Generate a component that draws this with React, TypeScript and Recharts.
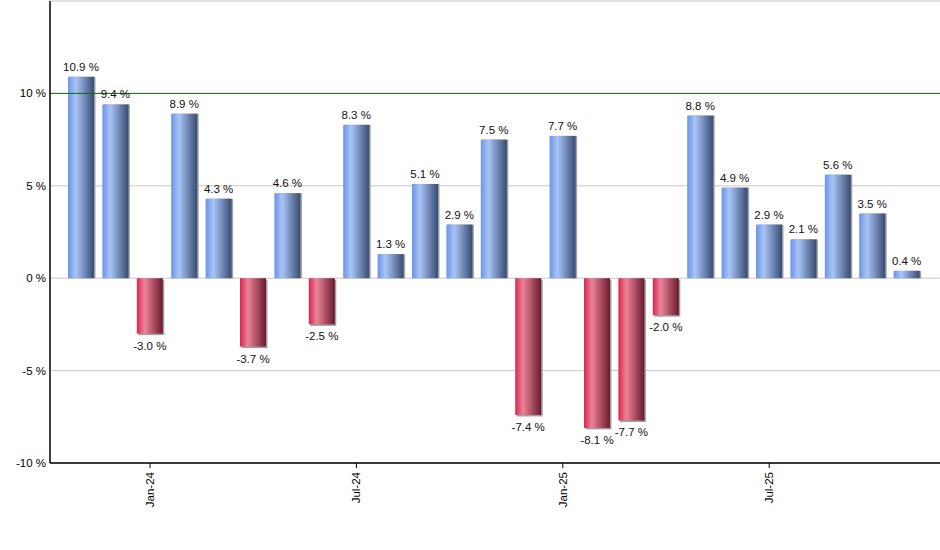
import React from "react";
import {
  BarChart,
  Bar,
  XAxis,
  YAxis,
  CartesianGrid,
  ReferenceLine,
  LabelList,
} from "recharts";

const months = [
  "Nov-23", "Dec-23", "Jan-24", "Feb-24", "Mar-24", "Apr-24", "May-24",
  "Jun-24", "Jul-24", "Aug-24", "Sep-24", "Oct-24", "Nov-24", "Dec-24",
  "Jan-25", "Feb-25", "Mar-25", "Apr-25", "May-25", "Jun-25", "Jul-25",
  "Aug-25", "Sep-25", "Oct-25", "Nov-25",
];

const returns = [
  10.9, 9.4, -3.0, 8.9, 4.3, -3.7, 4.6, -2.5, 8.3, 1.3, 5.1, 2.9, 7.5,
  -7.4, 7.7, -8.1, -7.7, -2.0, 8.8, 4.9, 2.9, 2.1, 5.6, 3.5, 0.4,
];

const yTicks = [-10, -5, 0, 5, 10, 15];
const shownTickMonths = ["Jan-24", "Jul-24", "Jan-25", "Jul-25"];

const data = months.map((m, i) => ({ month: m, value: returns[i] }));

const FONT = "'Liberation Sans', Arial, sans-serif";

function GradientBar(props: any) {
  const { x, y, width, height, value } = props;
  const top = Math.min(y, y + height);
  const h = Math.abs(height);
  const fill = value >= 0 ? "url(#gradPos)" : "url(#gradNeg)";
  return (
    <g>
      <rect x={x + 1.5} y={top + (value >= 0 ? 0 : 1.5)} width={width} height={h} fill="#a0a0a0" />
      <rect x={x} y={top} width={width} height={h} fill={fill} />
    </g>
  );
}

function ValueLabel(props: any) {
  const { x, y, width, height, value } = props;
  const top = Math.min(y, y + height);
  const bottom = Math.max(y, y + height);
  const cx = x + width / 2;
  const ty = value >= 0 ? top - 6 : bottom + 16;
  return (
    <text x={cx} y={ty} textAnchor="middle" fontSize={11.5} fontFamily={FONT} fill="#111">
      {`${value.toFixed(1)} %`}
    </text>
  );
}

function MonthTick(props: any) {
  const { x, y, payload } = props;
  if (!shownTickMonths.includes(payload.value)) return null;
  return (
    <g>
      <line x1={x} y1={y} x2={x} y2={y + 5} stroke="#000" />
      <text
        x={x + 4}
        y={y + 9}
        transform={`rotate(-90 ${x + 4} ${y + 9})`}
        textAnchor="end"
        fontSize={11.5}
        fontFamily={FONT}
        fill="#000"
      >
        {payload.value}
      </text>
    </g>
  );
}

export default function App() {
  return (
    <div style={{ position: "absolute", left: 0, top: 0, background: "#fff" }}>
      <BarChart
        width={940}
        height={550}
        data={data}
        margin={{ top: 1, right: 0, bottom: 57, left: 0 }}
        barSize={26}
      >
        <defs>
          <linearGradient id="gradPos" x1="0" y1="0" x2="1" y2="0">
            <stop offset="0%" stopColor="#6b94e6" />
            <stop offset="30%" stopColor="#a9c4f6" />
            <stop offset="100%" stopColor="#374c74" />
          </linearGradient>
          <linearGradient id="gradNeg" x1="0" y1="0" x2="1" y2="0">
            <stop offset="0%" stopColor="#d8264e" />
            <stop offset="30%" stopColor="#ec8399" />
            <stop offset="100%" stopColor="#6a1a2c" />
          </linearGradient>
        </defs>
        <CartesianGrid vertical={false} stroke="#c8c8c8" />
        <ReferenceLine y={10} stroke="#0c6e0c" strokeWidth={1} />
        <XAxis
          dataKey="month"
          interval={0}
          height={30}
          padding={{ left: 14, right: 16 }}
          axisLine={{ stroke: "#000", strokeWidth: 1.5 }}
          tickLine={false}
          tickSize={0}
          tickMargin={0}
          tick={<MonthTick />}
        />
        <YAxis
          domain={[-10, 15]}
          ticks={yTicks}
          width={50}
          axisLine={{ stroke: "#000", strokeWidth: 1.5 }}
          tickLine={false}
          tickSize={0}
          tickMargin={4}
          tick={{ fontSize: 11.5, fontFamily: FONT, fill: "#000" }}
          tickFormatter={(v: number) => (v === 15 ? "" : `${v} %`)}
        />
        <Bar dataKey="value" shape={<GradientBar />} isAnimationActive={false}>
          <LabelList dataKey="value" content={<ValueLabel />} />
        </Bar>
      </BarChart>
    </div>
  );
}
